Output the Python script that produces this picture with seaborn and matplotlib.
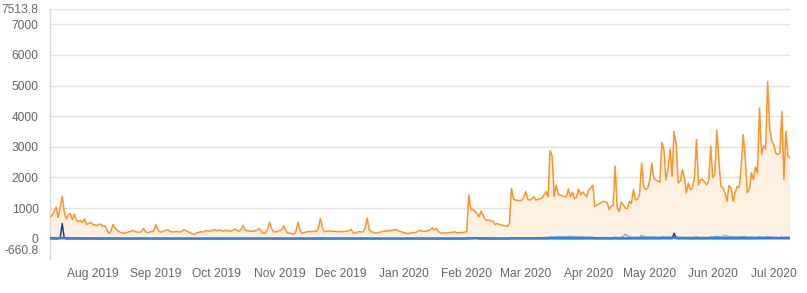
import matplotlib
matplotlib.use("Agg")
import matplotlib.pyplot as plt
import matplotlib.dates as mdates
from matplotlib.transforms import ScaledTranslation
import seaborn as sns
import pandas as pd

# ---------------- data (daily, 2019-07-11 .. 2020-07-09) ----------------
start_date = "2019-07-11"

orange = (
    # Jul 2019 (11-31)
    [720, 760, 900, 1030, 700, 1000, 1390, 900, 640, 780, 820, 620, 800, 600, 560, 600, 530, 650, 460, 500, 540]
    # Aug
    + [470, 450, 430, 480, 470, 400, 420, 300, 180, 250, 470, 340, 280, 230, 200, 180, 190, 210, 230, 250,
       270, 230, 220, 210, 240, 340, 230, 200, 220, 230, 250]
    # Sep
    + [470, 300, 230, 220, 260, 270, 290, 240, 230, 220, 240, 230, 220, 250, 300, 260, 230, 190, 160, 140,
       180, 200, 230, 220, 240, 270, 250, 250, 270, 300]
    # Oct
    + [260, 270, 280, 250, 260, 270, 260, 250, 280, 320, 270, 250, 300, 430, 290, 260, 250, 240, 250, 260,
       280, 340, 230, 180, 200, 300, 540, 330, 230, 220, 240]
    # Nov
    + [260, 300, 420, 260, 180, 190, 160, 140, 250, 540, 280, 180, 200, 220, 230, 240, 230, 250, 240, 330,
       670, 350, 230, 240, 260, 250, 240, 250, 230, 240]
    # Dec
    + [230, 230, 240, 250, 260, 310, 200, 180, 210, 230, 220, 230, 350, 670, 300, 230, 210, 180, 190, 210,
       230, 240, 250, 260, 260, 270, 280, 310, 270, 240, 230]
    # Jan 2020
    + [200, 180, 170, 180, 200, 210, 200, 250, 260, 250, 240, 250, 260, 290, 360, 280, 340, 230, 200, 180,
       190, 200, 200, 210, 200, 230, 200, 190, 210, 200, 220]
    # Feb
    + [230, 1430, 950, 960, 900, 820, 720, 900, 780, 620, 600, 620, 560, 580, 460, 500, 470, 450, 430, 420,
       410, 500, 1650, 1290, 1260, 1250, 1240, 1260, 1350]
    # Mar
    + [1540, 1290, 1260, 1300, 1370, 1260, 1290, 1300, 1320, 1430, 1540, 1370, 2880, 2700, 1370, 1750, 1450,
       1420, 1400, 1380, 1370, 1620, 1370, 1530, 1310, 1350, 1620, 1430, 1530, 1450, 1370]
    # Apr
    + [1590, 1650, 1750, 1050, 1100, 1130, 1170, 1220, 1210, 1190, 960, 1060, 1080, 2370, 1000, 890, 1200,
       1100, 1000, 980, 1220, 1150, 1600, 1270, 1290, 1440, 2470, 1710, 1600, 1660]
    # May
    + [1900, 2470, 1980, 1920, 1880, 1840, 3150, 2900, 1920, 2250, 2930, 2030, 3500, 3100, 1820, 1870, 2250,
       2030, 1500, 1820, 1600, 1660, 2000, 3240, 1750, 1920, 1940, 1850, 1760, 1870, 3020]
    # Jun
    + [2000, 2090, 3540, 2580, 1710, 1660, 1500, 1220, 1740, 1660, 1220, 1500, 1710, 1660, 2370, 3400, 2580,
       1500, 1610, 2150, 1930, 2340, 2150, 4270, 2760, 3030, 2920, 5140, 3600, 3200]
    # Jul (1-9)
    + [3070, 2800, 2750, 2800, 4160, 1930, 3510, 2700, 2640]
)

blue = (
    [20, 22, 24, 21, 19, 23, 26, 22, 20, 18, 19, 21, 20, 18, 17, 19, 18, 17, 18, 16, 17]
    + [16, 15, 17, 16, 15, 14, 16, 15, 14, 13, 15, 14, 13, 14, 15, 13, 12, 14, 13, 12, 14, 13, 12, 13, 14, 12,
       13, 12, 11, 13, 12]
    + [14, 12, 11, 12, 13, 12, 11, 12, 11, 10, 12, 11, 12, 11, 13, 12, 11, 10, 10, 9, 10, 11, 12, 11, 12, 13,
       12, 11, 12, 13]
    + [12, 12, 13, 12, 11, 12, 13, 12, 12, 13, 12, 11, 12, 14, 12, 11, 12, 11, 12, 12, 13, 14, 12, 10, 11, 12,
       15, 13, 12, 11, 12]
    + [12, 13, 14, 12, 10, 11, 10, 9, 12, 15, 13, 10, 11, 12, 12, 12, 11, 12, 12, 13, 16, 13, 12, 12, 12, 12,
       12, 12, 11, 12]
    + [11, 11, 12, 12, 12, 13, 11, 10, 11, 12, 11, 12, 13, 16, 13, 11, 10, 9, 10, 11, 11, 12, 12, 12, 12, 12,
       13, 13, 12, 11, 11]
    + [10, 10, 9, 10, 11, 11, 10, 12, 12, 12, 11, 12, 12, 13, 14, 12, 13, 11, 10, 10, 10, 11, 11, 11, 10, 11,
       10, 10, 11, 10, 11]
    + [12, 30, 22, 21, 20, 19, 18, 20, 18, 16, 16, 16, 15, 15, 14, 14, 14, 13, 13, 13, 13, 14, 26, 22, 21, 21,
       20, 21, 22]
    + [24, 21, 21, 22, 22, 21, 21, 22, 22, 23, 24, 22, 34, 30, 22, 26, 23, 23, 22, 22, 22, 24, 22, 23, 21, 22,
       24, 22, 23, 22, 21]
    + [23, 24, 25, 18, 18, 19, 19, 20, 20, 19, 17, 18, 18, 30, 17, 16, 19, 18, 17, 17, 19, 18, 23, 20, 20, 21,
       30, 24, 23, 23]
    + [25, 30, 26, 25, 25, 24, 36, 34, 25, 28, 34, 26, 38, 35, 24, 25, 28, 26, 21, 24, 22, 23, 26, 36, 24, 25,
       25, 24, 23, 24, 34]
    + [26, 27, 38, 30, 23, 22, 21, 18, 23, 22, 18, 21, 23, 22, 29, 37, 30, 21, 22, 27, 25, 28, 27, 42, 31, 34,
       33, 48, 38, 35]
    + [34, 31, 31, 31, 42, 25, 38, 31, 30]
)

light_blue = (
    [6, 7, 8, 7, 6, 7, 9, 7, 6, 6, 6, 7, 6, 5, 5, 6, 5, 5, 5, 4, 5]
    + [5, 4, 5, 4, 4, 4, 5, 4, 3, 4, 5, 4, 4, 4, 3, 3, 3, 4, 4, 4, 4, 4, 4, 3, 4, 5, 4, 3, 4, 4, 4]
    + [6, 4, 4, 4, 4, 4, 5, 4, 4, 4, 4, 4, 4, 4, 5, 4, 4, 3, 3, 3, 3, 3, 4, 4, 4, 4, 4, 4, 4, 5]
    + [4, 4, 4, 4, 4, 4, 4, 4, 4, 5, 4, 4, 5, 6, 4, 4, 4, 4, 4, 4, 4, 5, 4, 3, 3, 4, 7, 5, 4, 4, 4]
    + [4, 5, 6, 4, 3, 3, 3, 3, 4, 7, 4, 3, 3, 4, 4, 4, 4, 4, 4, 5, 8, 5, 4, 4, 4, 4, 4, 4, 4, 4]
    + [4, 4, 4, 4, 4, 5, 3, 3, 4, 4, 4, 4, 5, 8, 5, 4, 4, 3, 3, 4, 4, 4, 4, 4, 4, 4, 4, 5, 4, 4, 4]
    + [3, 3, 3, 3, 3, 4, 3, 4, 4, 4, 4, 4, 4, 5, 5, 4, 5, 4, 3, 3, 3, 3, 3, 4, 3, 4, 3, 3, 4, 3, 4]
    + [4, 12, 9, 9, 8, 8, 7, 8, 7, 6, 6, 6, 6, 6, 5, 5, 5, 5, 5, 5, 5, 6, 18, 14, 14, 15, 16, 18, 20]
    + [24, 22, 23, 26, 28, 27, 30, 32, 34, 38, 42, 40, 56, 52, 48, 60, 66, 70, 72, 68, 64, 72, 78, 70, 66, 62,
       70, 64, 58, 54, 50]
    + [52, 50, 48, 38, 36, 34, 36, 38, 40, 38, 34, 36, 42, 46, 44, 42, 48, 90, 140, 100, 56, 50, 46, 50, 48,
       54, 115, 80, 60, 56]
    + [54, 56, 52, 50, 48, 46, 52, 50, 46, 48, 52, 50, 56, 54, 46, 44, 46, 44, 40, 42, 40, 42, 44, 52, 46, 44,
       42, 40, 42, 44, 56]
    + [58, 62, 72, 60, 66, 80, 100, 84, 70, 64, 60, 58, 56, 62, 66, 60, 58, 52, 50, 54, 50, 48, 46, 52, 44, 42,
       40, 42, 38, 36]
    + [34, 32, 30, 30, 34, 28, 30, 26, 26]
)

navy = (
    [3, 3, 4, 3, 3, 30, 500, 20, 3, 3, 3, 3, 3, 3, 3, 3, 3, 3, 3, 3, 3]
    + [3, 3, 3, 3, 3, 3, 3, 3, 2, 3, 3, 3, 3, 3, 3, 2, 2, 3, 3, 3, 3, 3, 3, 2, 3, 3, 3, 2, 3, 3, 3]
    + [3, 3, 3, 3, 3, 3, 3, 3, 3, 2, 3, 3, 3, 3, 3, 3, 3, 2, 2, 2, 2, 2, 3, 3, 3, 3, 3, 3, 3, 3]
    + [3, 3, 3, 3, 3, 3, 3, 3, 3, 3, 3, 3, 3, 4, 3, 3, 3, 3, 3, 3, 3, 3, 3, 2, 2, 3, 4, 3, 3, 3, 3]
    + [3, 3, 4, 3, 2, 2, 2, 2, 3, 4, 3, 2, 2, 3, 3, 3, 3, 3, 3, 3, 4, 3, 3, 3, 3, 3, 3, 3, 3, 3]
    + [3, 3, 3, 3, 3, 3, 2, 2, 3, 3, 3, 3, 3, 4, 3, 3, 3, 2, 2, 3, 3, 3, 3, 3, 3, 3, 3, 3, 3, 3, 3]
    + [2, 2, 2, 2, 3, 3, 3, 3, 3, 3, 3, 3, 3, 3, 4, 3, 3, 3, 2, 2, 2, 3, 3, 3, 3, 3, 3, 2, 3, 3, 3]
    + [3, 6, 5, 8, 40, 10, 4, 5, 4, 4, 4, 4, 4, 4, 3, 3, 3, 3, 3, 3, 3, 3, 6, 5, 5, 5, 5, 5, 5]
    + [5, 5, 5, 5, 5, 5, 5, 5, 5, 5, 5, 5, 8, 7, 5, 6, 5, 5, 5, 5, 5, 6, 5, 5, 5, 5, 6, 5, 5, 5, 5]
    + [6, 6, 6, 4, 4, 4, 4, 5, 5, 5, 4, 4, 4, 8, 4, 4, 5, 5, 4, 4, 5, 5, 6, 5, 5, 5, 8, 6, 6, 6]
    + [6, 8, 6, 6, 6, 6, 9, 8, 6, 7, 8, 6, 180, 9, 6, 6, 7, 6, 5, 6, 5, 5, 6, 9, 6, 6, 6, 6, 5, 6, 8]
    + [6, 6, 9, 7, 5, 5, 5, 4, 6, 5, 4, 5, 6, 5, 7, 9, 7, 5, 5, 6, 6, 7, 6, 10, 7, 8, 7, 12, 9, 8]
    + [8, 7, 7, 7, 10, 6, 9, 7, 7]
)

y_ticks = [-660.8, 0, 1000, 2000, 3000, 4000, 5000, 6000, 7000, 7513.8]
y_tick_labels = ["-660.8", "0", "1000", "2000", "3000", "4000", "5000", "6000", "7000", "7513.8"]
y_min, y_max = -660.8, 7513.8

# ---------------- build frame ----------------
dates = pd.date_range(start_date, periods=len(orange), freq="D")
df = pd.DataFrame({"date": dates, "orange": orange, "blue": blue,
                   "light_blue": light_blue, "navy": navy})

# ---------------- style ----------------
sns.set_theme(style="white")
plt.rcParams["font.family"] = ["Liberation Sans", "DejaVu Sans"]

ORANGE = "#FF9326"
FILL = "#FFF1E2"
BLUE = "#3C80D6"
LIGHT_BLUE = "#6DB7F0"
NAVY = "#2B3889"
GRID = "#E3E3E3"
TXT = "#666666"

fig = plt.figure(figsize=(8.07, 2.93), dpi=100)
ax = fig.add_axes([50 / 807, 1 - 259 / 293, 740 / 807, (259 - 8.6) / 293])

ax.fill_between(df["date"], 0, df["orange"], color=FILL, linewidth=0, zorder=1)
sns.lineplot(data=df, x="date", y="orange", ax=ax, color=ORANGE, linewidth=1.1, zorder=3)
sns.lineplot(data=df, x="date", y="light_blue", ax=ax, color=LIGHT_BLUE, linewidth=1.1, zorder=4)
sns.lineplot(data=df, x="date", y="navy", ax=ax, color=NAVY, linewidth=1.1, zorder=5)
sns.lineplot(data=df, x="date", y="blue", ax=ax, color=BLUE, linewidth=1.6, zorder=6)

ax.set_xlim(dates[0], dates[-1])
ax.set_ylim(y_min, y_max)
ax.set_xlabel("")
ax.set_ylabel("")

ax.set_yticks(y_ticks)
ax.set_yticklabels(y_tick_labels)
ax.xaxis.set_major_locator(mdates.MonthLocator())
ax.xaxis.set_major_formatter(mdates.DateFormatter("%b %Y"))

ax.grid(axis="y", color=GRID, linewidth=1.0, zorder=0)
ax.grid(axis="x", visible=False)
ax.set_axisbelow(True)

for side in ["top", "right", "bottom"]:
    ax.spines[side].set_visible(False)
ax.spines["left"].set_color("#D9D9D9")
ax.spines["left"].set_linewidth(1.0)

ax.tick_params(axis="y", length=7.2, width=1.0, color=GRID, pad=1.0,
               labelsize=8.64, labelcolor=TXT)
ax.tick_params(axis="x", length=0, pad=6.5, labelsize=8.64, labelcolor=TXT)

# bottom y label drawn slightly above its line, as in the reference
lab = ax.yaxis.get_major_ticks()[0].label1
lab.set_transform(lab.get_transform() + ScaledTranslation(0, 6.5 / 72, fig.dpi_scale_trans))

fig.savefig("out.png", dpi=100)
